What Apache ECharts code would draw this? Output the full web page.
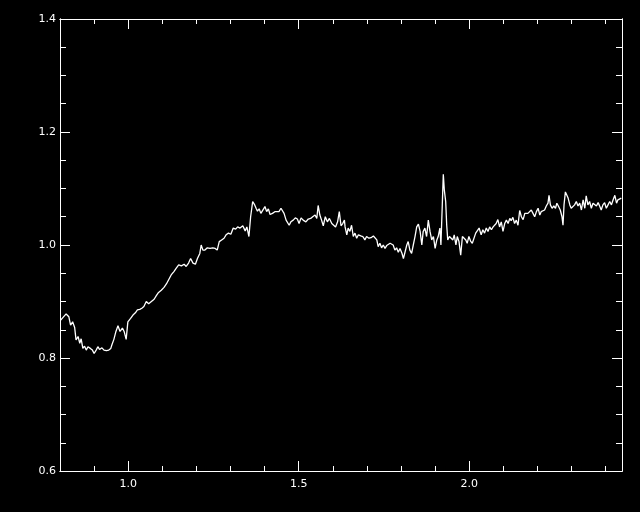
<!DOCTYPE html>
<html>
<head>
<meta charset="utf-8">
<script src="https://cdn.jsdelivr.net/npm/echarts@6/dist/echarts.min.js"></script>
<style>
html,body{margin:0;padding:0;background:#000;}
#chart{width:640px;height:512px;}
</style>
</head>
<body>
<div id="chart"></div>
<script>
// wavelength values (x)
const wavelength = [
0.802,0.809,0.818,0.826,0.831,0.837,0.843,0.847,0.853,0.858,
0.862,0.867,0.872,0.877,0.882,0.889,0.895,0.900,0.906,0.911,
0.916,0.923,0.929,0.936,0.943,0.949,0.952,0.958,0.964,0.970,
0.976,0.983,0.988,0.994,0.999,1.007,1.014,1.021,1.027,1.034,
1.040,1.046,1.053,1.060,1.068,1.076,1.082,1.089,1.097,1.105,
1.112,1.119,1.126,1.134,1.141,1.148,1.156,1.164,1.170,1.177,
1.183,1.190,1.197,1.203,1.210,1.214,1.219,
1.225,1.232,1.240,1.248,1.255,1.261,1.267,1.274,1.281,1.287,
1.294,1.301,1.308,1.315,1.321,1.328,1.336,1.343,1.348,1.354,
1.359,1.365,1.370,1.375,1.379,1.384,1.389,1.394,1.401,1.406,
1.411,1.416,1.423,1.430,1.435,1.442,1.448,1.452,1.457,1.463,
1.468,1.472,1.477,1.484,1.490,1.496,1.501,1.507,1.513,1.521,
1.528,1.535,1.541,1.548,1.553,1.557,1.562,1.567,1.572,1.578,
1.584,1.590,1.597,1.601,1.608,1.614,1.619,1.624,1.629,1.634,
1.636,1.641,1.645,1.650,1.655,1.660,1.665,1.670,1.675,1.682,
1.688,1.694,1.699,1.706,1.712,1.719,1.724,1.729,1.733,1.738,
1.743,1.748,1.753,1.758,1.763,1.768,1.773,1.777,1.782,1.787,
1.792,1.797,1.803,1.807,1.812,1.817,1.821,1.826,1.831,1.836,
1.841,1.846,1.851,1.856,1.861,1.865,1.870,1.875,1.880,1.885,
1.890,1.895,1.900,1.905,1.909,1.914,1.917,1.921,1.924,1.927,
1.931,1.934,1.937,1.942,1.947,1.952,1.956,1.961,1.965,1.970,
1.975,1.980,1.985,1.990,1.994,1.999,2.004,2.009,2.014,2.019,
2.024,2.029,
2.035,2.040,2.045,2.050,2.055,2.060,2.065,2.070,2.075,2.079,
2.084,2.089,2.094,2.099,2.104,2.109,2.114,2.119,2.123,2.128,
2.133,2.138,2.143,2.148,2.153,2.158,2.163,2.167,2.172,2.177,
2.182,2.187,2.192,2.197,2.202,2.207,2.211,2.216,2.221,2.226,
2.231,2.234,2.238,2.243,2.248,2.253,2.257,2.262,2.267,2.272,
2.275,2.278,2.282,2.286,2.290,2.295,2.299,2.304,2.309,2.314,
2.319,2.324,2.329,2.334,2.339,2.343,2.348,2.353,2.358,2.363,
2.368,2.373,2.378,2.383,2.387,2.392,2.397,2.402,2.407,2.412,
2.417,2.422,2.427,2.432,2.436,2.441,2.446
];
// ratio values (y)
const ratio = [
0.867,0.872,0.878,0.873,0.858,0.864,0.854,0.832,0.838,0.826,
0.834,0.817,0.821,0.814,0.820,0.817,0.814,0.808,0.814,0.820,
0.815,0.818,0.814,0.813,0.814,0.817,0.823,0.833,0.847,0.857,
0.847,0.853,0.847,0.833,0.864,0.870,0.876,0.880,0.885,0.886,
0.888,0.891,0.900,0.896,0.900,0.904,0.910,0.916,0.920,0.925,
0.931,0.939,0.947,0.953,0.959,0.965,0.963,0.966,0.962,0.968,
0.976,0.968,0.966,0.976,0.985,1.000,0.991,
0.991,0.995,0.994,0.995,0.994,0.991,1.006,1.009,1.012,1.018,
1.021,1.019,1.030,1.028,1.032,1.030,1.034,1.025,1.032,1.015,
1.050,1.077,1.072,1.065,1.060,1.064,1.056,1.053,1.068,1.059,
1.064,1.054,1.056,1.059,1.062,1.059,1.065,1.068,1.056,1.044,
1.047,1.035,1.041,1.044,1.048,1.046,1.038,1.048,1.044,1.041,
1.046,1.047,1.050,1.053,1.047,1.070,1.053,1.044,1.034,1.050,
1.041,1.047,1.038,1.035,1.032,1.041,1.059,1.034,1.038,1.044,
1.032,1.018,1.030,1.024,1.035,1.015,1.021,1.012,1.018,1.016,
1.015,1.009,1.015,1.012,1.013,1.016,1.018,1.009,0.997,1.003,
0.995,1.000,0.994,0.999,0.997,1.003,1.005,1.000,0.991,0.995,
0.987,0.994,0.985,0.976,0.988,1.000,1.006,0.991,0.985,1.000,
1.015,1.032,1.037,1.024,1.000,1.024,1.030,1.015,1.044,1.024,
1.009,1.015,0.994,1.009,1.015,1.030,1.000,1.071,1.125,1.097,
1.077,1.035,1.009,1.015,1.018,1.009,1.018,1.000,1.015,1.006,
0.982,1.015,1.016,1.009,1.003,1.015,1.007,1.003,1.006,1.021,
1.024,1.030,
1.018,1.027,1.021,1.030,1.024,1.032,1.027,1.032,1.031,1.038,
1.045,1.032,1.041,1.024,1.038,1.044,1.038,1.047,1.043,1.049,
1.038,1.044,1.035,1.061,1.050,1.045,1.056,1.057,1.056,1.059,
1.062,1.056,1.050,1.059,1.065,1.053,1.059,1.056,1.062,1.069,
1.074,1.088,1.071,1.065,1.069,1.065,1.074,1.068,1.062,1.050,
1.035,1.071,1.094,1.097,1.083,1.071,1.065,1.068,1.071,1.077,
1.069,1.074,1.062,1.080,1.065,1.087,1.071,1.077,1.065,1.074,
1.077,1.069,1.075,1.068,1.062,1.071,1.075,1.065,1.071,1.077,
1.071,1.080,1.088,1.074,1.080,1.077,1.083
];
// tick values
const xMinorTicks = [0.9,1.1,1.2,1.3,1.4,1.6,1.7,1.8,1.9,2.1,2.2,2.3,2.4];
const xMajorTicks = [1.0,1.5,2.0];
const yMinorTicks = [0.65,0.7,0.75,0.85,0.9,0.95,1.05,1.1,1.15,1.25,1.3,1.35];
const yMajorTicks = [0.8,1.0,1.2];
const yTickLabels = [0.6,0.8,1.0,1.2,1.4];

const X_MIN = 0.8, X_MAX = 2.448, Y_MIN = 0.6, Y_MAX = 1.4;
const white = '#ffffff';
const fontFamily = 'DejaVu Sans, Liberation Sans, sans-serif';

function xAx(pos, ticks, len, labels) {
  return {
    type: 'value', position: pos, min: X_MIN, max: X_MAX,
    axisLine: {show: true, onZero: false, lineStyle: {color: white, width: 1}},
    axisTick: {show: true, inside: true, length: len, customValues: ticks, lineStyle: {color: white, width: 1}},
    axisLabel: labels ? {show: true, customValues: labels, color: white, fontSize: 11, fontFamily: fontFamily, margin: 8,
      formatter: v => Number(v).toFixed(1)} : {show: false},
    splitLine: {show: false}
  };
}
function yAx(pos, ticks, len, labels) {
  return {
    type: 'value', position: pos, min: Y_MIN, max: Y_MAX,
    axisLine: {show: true, onZero: false, lineStyle: {color: white, width: 1}},
    axisTick: {show: true, inside: true, length: len, customValues: ticks, lineStyle: {color: white, width: 1}},
    axisLabel: labels ? {show: true, customValues: labels, color: white, fontSize: 11, fontFamily: fontFamily, margin: 4,
      formatter: v => Number(v).toFixed(1)} : {show: false},
    splitLine: {show: false}
  };
}

const chart = echarts.init(document.getElementById('chart'), null, {renderer: 'canvas'});
chart.setOption({
  backgroundColor: '#000000',
  animation: false,
  grid: {left: 60, right: 18, top: 19, bottom: 41, containLabel: false},
  xAxis: [
    xAx('bottom', xMinorTicks, 5, null),
    xAx('bottom', xMajorTicks, 10, xMajorTicks),
    xAx('top', xMinorTicks, 5, null),
    xAx('top', xMajorTicks, 10, null)
  ],
  yAxis: [
    yAx('left', yMinorTicks, 6, null),
    yAx('left', yMajorTicks, 10, yTickLabels),
    yAx('right', yMinorTicks, 6, null),
    yAx('right', yMajorTicks, 10, null)
  ],
  series: [{
    type: 'line',
    xAxisIndex: 0, yAxisIndex: 0,
    data: wavelength.map((w, i) => [w, ratio[i]]),
    showSymbol: false,
    symbol: 'none',
    lineStyle: {color: white, width: 1.3},
    clip: true
  }]
});
</script>
</body>
</html>
